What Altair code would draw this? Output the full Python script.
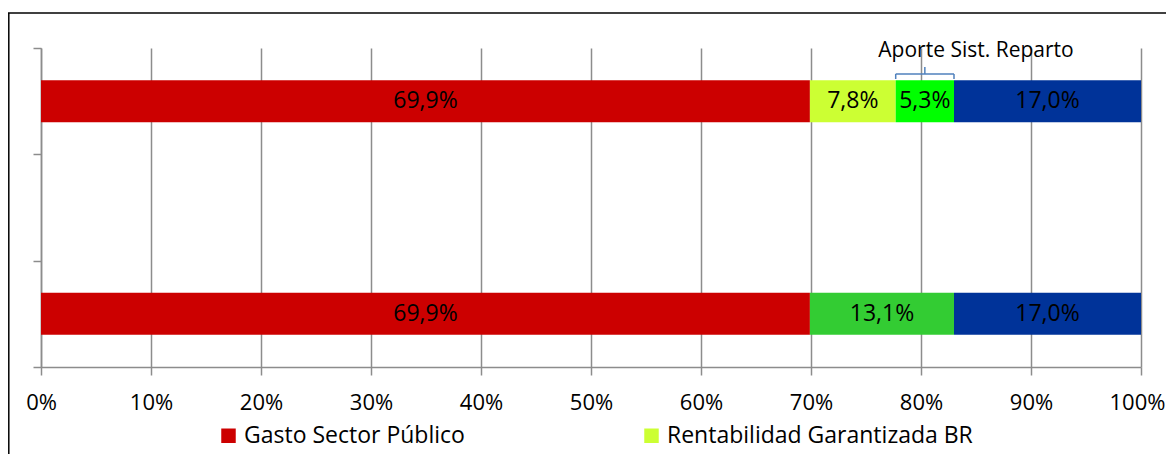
import altair as alt
import pandas as pd

# ---- data ----
categories = ["Escenario 1", "Vacío", "Escenario 2"]

top_series = ["Gasto Sector Público", "Rentabilidad Garantizada BR", "Aporte Sist. Reparto", "Cotizaciones"]
top_values = [69.9, 7.8, 5.3, 17.0]

bottom_series = ["Gasto Sector Público", "Rentabilidad + Aporte", "Cotizaciones"]
bottom_values = [69.9, 13.1, 17.0]

series_names = ["Gasto Sector Público", "Rentabilidad Garantizada BR", "Aporte Sist. Reparto",
                "Rentabilidad + Aporte", "Cotizaciones"]
series_colors = ["#CC0000", "#CCFF33", "#00FF00", "#33CC33", "#003399"]
legend_series = ["Gasto Sector Público", "Rentabilidad Garantizada BR"]

x_ticks = [0, 0.1, 0.2, 0.3, 0.4, 0.5, 0.6, 0.7, 0.8, 0.9, 1.0]

annotation_text = "Aporte Sist. Reparto"
annotation_series = "Aporte Sist. Reparto"
annotation_x = 0.85

FONT = "Open Sans"
GRID = "#8c8c8c"

# ---- build table ----
rows = []
for cat, names, vals in [(categories[0], top_series, top_values),
                         (categories[2], bottom_series, bottom_values)]:
    acc = 0.0
    for i, (n, v) in enumerate(zip(names, vals)):
        start = acc / 100
        acc += v
        end = acc / 100
        rows.append({"cat": cat, "series": n, "order": i, "start": start, "end": end,
                     "mid": (start + end) / 2,
                     "label": f"{v:.1f}%".replace(".", ",")})
df = pd.DataFrame(rows)

seg = df[(df["cat"] == categories[0]) & (df["series"] == annotation_series)].iloc[0]
brace = pd.DataFrame({"start": [seg["start"]], "end": [seg["end"]], "mid": [seg["mid"]]})
ann = pd.DataFrame({"x": [annotation_x], "text": [annotation_text]})

xscale = alt.Scale(domain=[0, 1], nice=False, zero=True)
yscale = alt.Scale(domain=categories, paddingInner=0, paddingOuter=0)

bars = alt.Chart(df).mark_bar(size=42).encode(
    x=alt.X("start:Q", scale=xscale, title=None,
            axis=alt.Axis(values=x_ticks, format=".0%", grid=True, gridColor=GRID, gridWidth=1.5,
                          domainColor=GRID, domainWidth=1.5, tickColor=GRID, tickWidth=1.5,
                          tickSize=8, labelFont=FONT, labelFontSize=22, labelColor="black",
                          labelPadding=17, labelFlush=False, labelOverlap=False,
                          labelOffset={"condition": {"test": "datum.value == 1", "value": -4},
                                       "value": 0})),
    x2="end:Q",
    y=alt.Y("cat:N", scale=yscale, title=None,
            axis=alt.Axis(labels=False, ticks=True, tickSize=8, tickBand="extent", grid=False,
                          domainColor=GRID, domainWidth=1.5, tickColor=GRID, tickWidth=1.5)),
    color=alt.Color("series:N", scale=alt.Scale(domain=series_names, range=series_colors),
                    legend=alt.Legend(values=legend_series, title=None, orient="none",
                                      legendX=176, legendY=376, direction="horizontal",
                                      columns=2, columnPadding=175, symbolType="square",
                                      symbolSize=210, symbolStrokeWidth=0, symbolOpacity=1,
                                      labelFont=FONT, labelFontSize=23, labelColor="black",
                                      labelOffset=4, labelLimit=0)),
    order="order:Q",
)

labels = alt.Chart(df).mark_text(font=FONT, fontSize=23, color="black").encode(
    x=alt.X("mid:Q", scale=xscale),
    y=alt.Y("cat:N", scale=yscale),
    text="label:N",
)

BR = "#4F81BD"
brace_h = alt.Chart(brace).mark_rule(color=BR, strokeWidth=1.5).encode(
    x=alt.X("start:Q", scale=xscale), x2="end:Q", y=alt.value(26))
brace_l = alt.Chart(brace).mark_rule(color=BR, strokeWidth=1.5).encode(
    x=alt.X("start:Q", scale=xscale), y=alt.value(26), y2=alt.value(31))
brace_r = alt.Chart(brace).mark_rule(color=BR, strokeWidth=1.5).encode(
    x=alt.X("end:Q", scale=xscale), y=alt.value(26), y2=alt.value(31))
brace_m = alt.Chart(brace).mark_rule(color=BR, strokeWidth=1.5).encode(
    x=alt.X("mid:Q", scale=xscale), y=alt.value(19), y2=alt.value(26))

ann_text = alt.Chart(ann).mark_text(font=FONT, fontSize=21, color="black").encode(
    x=alt.X("x:Q", scale=xscale), y=alt.value(3), text="text:N")

frame_df = pd.DataFrame({"k": [0]})
frame_left = alt.Chart(frame_df).mark_rule(color="black", strokeWidth=1.5).encode(
    x=alt.value(-32.2), y=alt.value(-35), y2=alt.value(420))
frame_top = alt.Chart(frame_df).mark_rule(color="black", strokeWidth=1.5).encode(
    x=alt.value(-33), x2=alt.value(1130), y=alt.value(-35))

chart = alt.layer(bars, labels, brace_h, brace_l, brace_r, brace_m, ann_text,
                  frame_left, frame_top).properties(
    width=1100, height=319,
    autosize=alt.AutoSizeParams(type="none"),
    padding={"left": 33, "top": 40, "right": 25, "bottom": 90},
    background="white",
).configure_view(stroke=None)

chart.save("out.html", embed_options={"renderer": "svg", "actions": False})
